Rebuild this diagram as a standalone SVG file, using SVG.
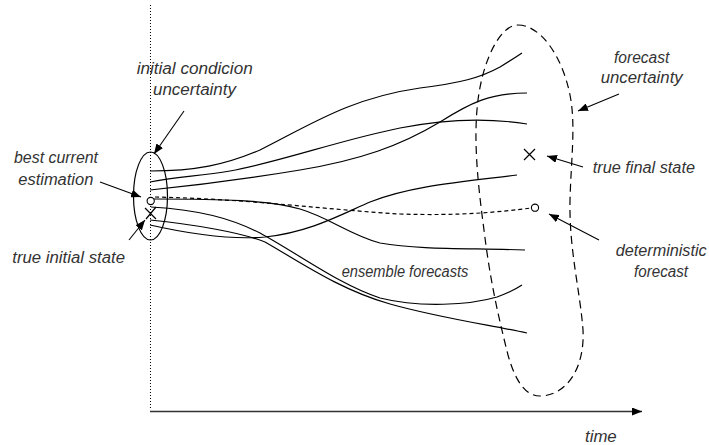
<svg xmlns="http://www.w3.org/2000/svg" width="709" height="445" viewBox="0 0 709 445">
<style>
.t{font-family:"Liberation Sans",Arial,sans-serif;font-style:italic;font-size:16px;fill:#333}
.ln{fill:none;stroke:#000;stroke-width:1.2}
.ar{fill:none;stroke:#000;stroke-width:1.1}
</style>
<defs>
<marker id="ah" viewBox="0 0 10 8" refX="10" refY="4" markerWidth="10" markerHeight="8" markerUnits="userSpaceOnUse" orient="auto">
<path d="M0,0 L10,4 L0,8 Z" fill="#000"/>
</marker>
</defs>
<rect width="709" height="445" fill="#fff"/>
<g id="axes">
<line x1="150.5" y1="5" x2="150.5" y2="410" stroke="#000" stroke-width="1" stroke-dasharray="1,2"/>
<line x1="150" y1="411.5" x2="642" y2="411.5" stroke="#333" stroke-width="1.5" marker-end="url(#ah)"/>
</g>
<g id="connectors">
<path class="ln" d="M150,171 C195,171 225,165 260,150 C310,125 350,98 420,88 C460,83 480,78 500,67 C510,61 516,57 522,53"/>
<path class="ln" d="M150,182 C175,177 200,176 230,171 C280,162 340,140 400,128 C450,118 490,118 527,124"/>
<path class="ln" d="M150,190 C190,186 240,180 300,170 C360,160 400,146 440,122 C470,103 490,93 527,93"/>
<path class="ln" d="M154,199 C220,199 270,200 300,209 C330,218 350,235 380,243 C420,250 470,248 525,250"/>
<path class="ln" d="M151,207 C200,210 230,218 260,233 C300,255 340,285 380,298 C420,308 470,305 497,297 C508,293 516,289 522,285"/>
<path class="ln" d="M150,220 C190,224 240,232 265,242 C300,262 340,290 390,304 C440,318 490,325 527,333"/>
<path class="ln" d="M150,225 C190,234 230,240 265,237 C310,232 340,215 370,202 C410,186 460,182 517,175"/>
<path class="ln" d="M155,197 C250,199 330,210 400,214 C460,216 500,212 531,208" stroke-dasharray="4,3"/>
<line class="ar" x1="184" y1="111" x2="154" y2="154" marker-end="url(#ah)"/>
<line class="ar" x1="100" y1="182" x2="141" y2="197" marker-end="url(#ah)"/>
<line class="ar" x1="129" y1="240" x2="145" y2="220" marker-end="url(#ah)"/>
<line class="ar" x1="619" y1="94" x2="578" y2="111" marker-end="url(#ah)"/>
<line class="ar" x1="583" y1="167" x2="547" y2="156" marker-end="url(#ah)"/>
<line class="ar" x1="599" y1="240" x2="549" y2="214" marker-end="url(#ah)"/>
</g>
<g id="initial-uncertainty">
<ellipse cx="150.5" cy="196" rx="17" ry="44" fill="none" stroke="#000" stroke-width="1.2"/>
</g>
<g id="best-current-estimation">
<circle cx="150.7" cy="201" r="3.6" fill="#fff" stroke="#000" stroke-width="1.1"/>
</g>
<g id="true-initial-state">
<path class="ln" d="M145,208 L156,219 M156,207 L146,219"/>
</g>
<g id="forecast-uncertainty">
<path fill="none" stroke="#000" stroke-width="1.2" stroke-dasharray="8,5" d="M518,25 C540,25 562,55 570,95 C576,125 571,160 570,200 C569,250 580,290 583,330 C585,370 565,396 540,396 C525,396 515,380 508,355 C498,315 490,280 484,230 C478,185 473,140 478,100 C483,60 500,25 518,25 Z"/>
</g>
<g id="true-final-state">
<path class="ln" d="M524,149 L535,160 M535,149 L524,160"/>
</g>
<g id="deterministic-forecast">
<circle cx="535" cy="207.7" r="3.6" fill="#fff" stroke="#000" stroke-width="1.1"/>
</g>
<g id="labels">
<text class="t" x="136.7" y="73.5" textLength="116" lengthAdjust="spacingAndGlyphs">initial condicion</text>
<text class="t" x="153" y="95" textLength="83" lengthAdjust="spacingAndGlyphs">uncertainty</text>
<text class="t" x="14" y="163.3" textLength="84" lengthAdjust="spacingAndGlyphs">best current</text>
<text class="t" x="18.3" y="185" textLength="75" lengthAdjust="spacingAndGlyphs">estimation</text>
<text class="t" x="12.3" y="263.3" textLength="112.7" lengthAdjust="spacingAndGlyphs">true initial state</text>
<text class="t" x="341.7" y="277.3" textLength="126.7" lengthAdjust="spacingAndGlyphs">ensemble forecasts</text>
<text class="t" x="614" y="63.3" textLength="55.3" lengthAdjust="spacingAndGlyphs">forecast</text>
<text class="t" x="600.7" y="83.3" textLength="82" lengthAdjust="spacingAndGlyphs">uncertainty</text>
<text class="t" x="592.7" y="172.7" textLength="102.3" lengthAdjust="spacingAndGlyphs">true final state</text>
<text class="t" x="615.7" y="256" textLength="91" lengthAdjust="spacingAndGlyphs">deterministic</text>
<text class="t" x="634" y="276.7" textLength="54" lengthAdjust="spacingAndGlyphs">forecast</text>
<text class="t" x="585" y="442" textLength="31.7" lengthAdjust="spacingAndGlyphs">time</text>
</g>
</svg>
